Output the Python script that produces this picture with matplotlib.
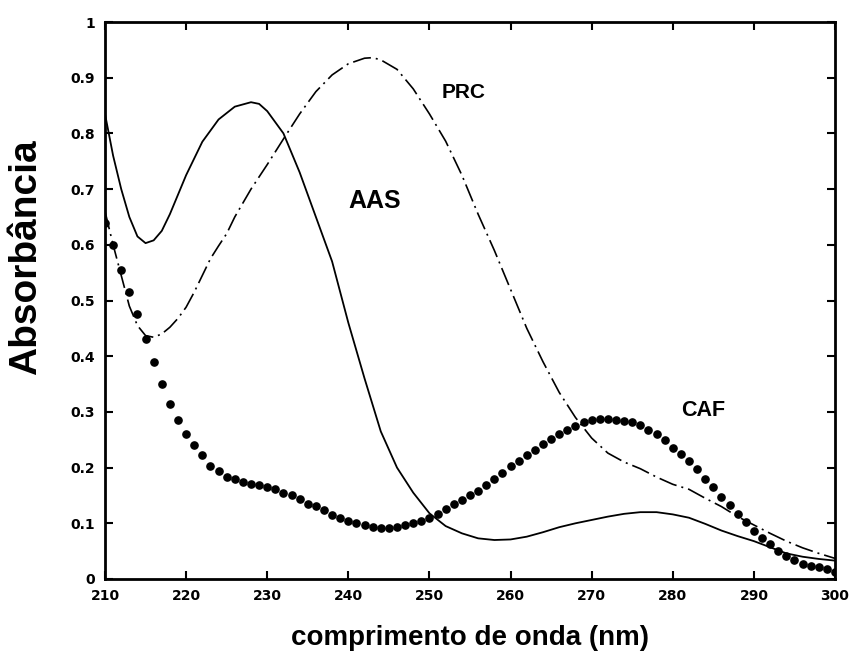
import matplotlib
matplotlib.use("Agg")
import matplotlib.pyplot as plt

# Absorption spectra: aspirin (AAS), paracetamol (PRC), caffeine (CAF)
aas_wl = [210, 211, 212, 213, 214, 215, 216, 217, 218, 219, 220, 222, 224, 226,
          228, 229, 230, 232, 234, 236, 238, 240, 242, 244, 246, 248, 250, 252,
          254, 256, 258, 260, 262, 264, 266, 268, 270, 272, 274, 276, 278, 280,
          282, 284, 286, 288, 290, 292, 294, 296, 298, 300]
aas_abs = [0.835, 0.76, 0.70, 0.65, 0.615, 0.603, 0.608, 0.625, 0.655, 0.69,
           0.725, 0.785, 0.825, 0.848, 0.856, 0.853, 0.84, 0.80, 0.73, 0.65,
           0.57, 0.46, 0.36, 0.265, 0.20, 0.155, 0.118, 0.095, 0.082, 0.073,
           0.07, 0.071, 0.076, 0.084, 0.093, 0.10, 0.106, 0.112, 0.117, 0.12,
           0.12, 0.116, 0.11, 0.099, 0.087, 0.077, 0.068, 0.057, 0.046, 0.04,
           0.036, 0.033]

prc_wl = [210, 211, 212, 213, 214, 215, 216, 217, 218, 219, 220, 221, 222, 223,
          224, 225, 226, 227, 228, 230, 232, 234, 236, 238, 240, 242, 243, 244,
          246, 248, 250, 252, 254, 256, 258, 260, 262, 264, 266, 268, 270, 272,
          274, 276, 278, 280, 282, 284, 286, 288, 290, 292, 294, 296, 298, 300]
prc_abs = [0.66, 0.60, 0.545, 0.49, 0.455, 0.437, 0.434, 0.44, 0.452, 0.468,
           0.488, 0.515, 0.545, 0.575, 0.598, 0.62, 0.65, 0.675, 0.70, 0.744,
           0.79, 0.835, 0.875, 0.905, 0.925, 0.935, 0.936, 0.932, 0.915, 0.88,
           0.835, 0.786, 0.725, 0.655, 0.59, 0.52, 0.45, 0.39, 0.335, 0.29,
           0.253, 0.226, 0.21, 0.198, 0.183, 0.17, 0.161, 0.145, 0.13, 0.112,
           0.097, 0.082, 0.068, 0.056, 0.046, 0.037]

caf_wl = list(range(210, 301))
caf_abs = [0.64, 0.60, 0.555, 0.515, 0.475, 0.43, 0.39, 0.35, 0.315, 0.285,
           0.26, 0.24, 0.222, 0.203, 0.193, 0.184, 0.179, 0.175, 0.171, 0.168,
           0.165, 0.161, 0.155, 0.15, 0.143, 0.135, 0.131, 0.124, 0.115, 0.109,
           0.105, 0.10, 0.097, 0.094, 0.092, 0.092, 0.094, 0.097, 0.10, 0.104,
           0.11, 0.116, 0.125, 0.134, 0.141, 0.15, 0.158, 0.168, 0.179, 0.19,
           0.202, 0.212, 0.222, 0.232, 0.242, 0.252, 0.261, 0.268, 0.275, 0.281,
           0.285, 0.287, 0.287, 0.285, 0.284, 0.282, 0.277, 0.268, 0.26, 0.249,
           0.236, 0.225, 0.211, 0.198, 0.18, 0.165, 0.148, 0.133, 0.116, 0.102,
           0.087, 0.073, 0.062, 0.05, 0.042, 0.034, 0.027, 0.024, 0.021, 0.018,
           0.013]

x_ticks = [210, 220, 230, 240, 250, 260, 270, 280, 290, 300]
y_ticks = [0, 0.1, 0.2, 0.3, 0.4, 0.5, 0.6, 0.7, 0.8, 0.9, 1]
y_tick_labels = ["0", "0.1", "0.2", "0.3", "0.4", "0.5", "0.6", "0.7", "0.8", "0.9", "1"]

fig = plt.figure(figsize=(8.53, 6.53), dpi=100)
ax = fig.add_axes([105 / 853, 74 / 653, 730 / 853, 557 / 653])

ax.plot(aas_wl, aas_abs, color="black", lw=1.3, solid_joinstyle="round")
ax.plot(prc_wl, prc_abs, color="black", lw=1.2, dashes=(11, 3, 1.2, 3))
ax.plot(caf_wl, caf_abs, linestyle="none", marker="o", ms=5.2,
        color="black", mec="black")

ax.text(254.2, 0.874, "PRC", fontsize=15, fontweight="bold",
        family="Liberation Sans", ha="center", va="center")
ax.text(243.3, 0.679, "AAS", fontsize=18, fontweight="bold",
        family="Liberation Sans", ha="center", va="center")
ax.text(283.8, 0.302, "CAF", fontsize=15.5, fontweight="bold",
        family="Liberation Sans", ha="center", va="center")

ax.set_xlim(210, 300)
ax.set_ylim(0, 1)
ax.set_xticks(x_ticks)
ax.set_yticks(y_ticks)
ax.set_yticklabels(y_tick_labels)
ax.tick_params(direction="in", length=6, width=1.5, top=True, right=True,
               labelsize=10)
ax.tick_params(axis="x", pad=7)
ax.tick_params(axis="y", pad=7)
for lab in ax.get_xticklabels() + ax.get_yticklabels():
    lab.set_fontweight("bold")
for sp in ax.spines.values():
    sp.set_linewidth(2)

ax.set_xlabel("comprimento de onda (nm)", fontsize=20, fontweight="bold",
              family="Liberation Sans", labelpad=16)
ax.set_ylabel("Absorbância", fontsize=28, fontweight="bold",
              family="Liberation Sans")
ax.yaxis.set_label_coords(-0.084, 0.578)

fig.savefig("out.png", dpi=100)
